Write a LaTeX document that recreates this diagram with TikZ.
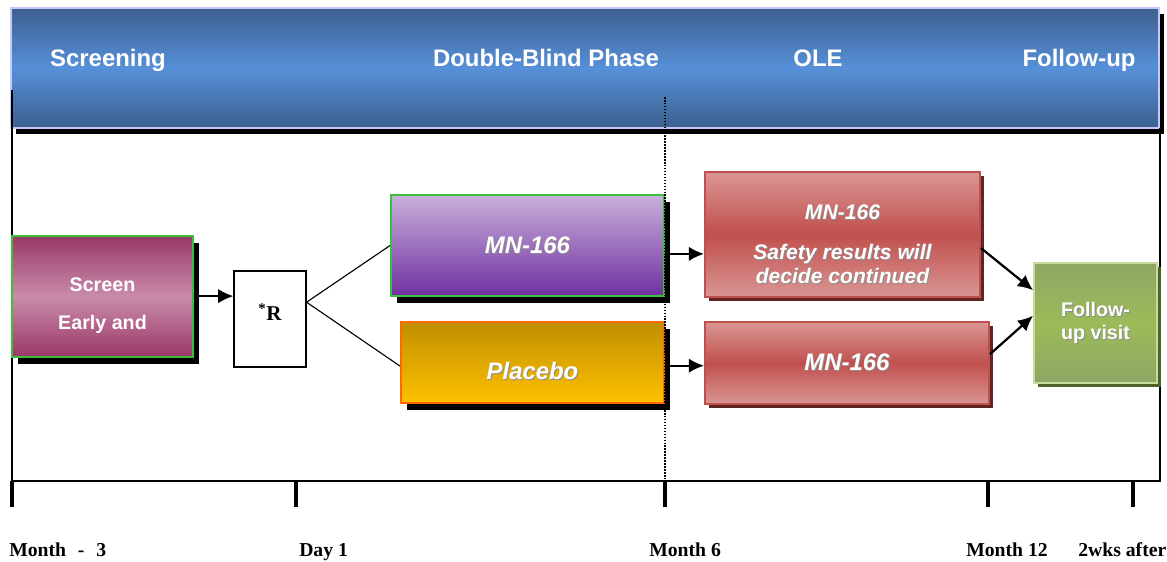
\documentclass[tikz,border=0pt]{standalone}
\usepackage{fontspec}
\setmainfont{Liberation Serif}
\setsansfont{Liberation Sans}
\usepackage{xcolor}
\usetikzlibrary{arrows.meta}
\usetikzlibrary{shadows}

\definecolor{hdrdark}{HTML}{3C5F8F}
\definecolor{hdrmid}{HTML}{5690D8}
\definecolor{hdrline}{HTML}{C8C8F8}
\definecolor{scrdark}{HTML}{9A3868}
\definecolor{scrmid}{HTML}{C98BAA}
\definecolor{boxgreen}{HTML}{3CC03C}
\definecolor{purptop}{HTML}{C8B0DC}
\definecolor{purpbot}{HTML}{7030A0}
\definecolor{goldtop}{HTML}{BF8F00}
\definecolor{goldbot}{HTML}{FFC000}
\definecolor{plborder}{HTML}{FF6A00}
\definecolor{redlight}{HTML}{DA9694}
\definecolor{redmid}{HTML}{C0504D}
\definecolor{redline}{HTML}{C0504D}
\definecolor{redshadow}{HTML}{632523}
\definecolor{fuptop}{HTML}{8FA664}
\definecolor{fupmid}{HTML}{9BBB59}
\definecolor{fupline}{HTML}{C4DD9A}
\definecolor{fupshadow}{HTML}{4F6228}

% white text with a little grey shadow
\newcommand{\shd}[1]{\makebox[0pt][l]{\kern0.7pt\raisebox{-0.7pt}{\textcolor{black!45}{#1}}}#1}

\begin{document}
\begin{tikzpicture}[x=0.025cm,y=-0.025cm,
  hdrtxt/.style={anchor=base,text=white,font=\sffamily\bfseries\fontsize{17}{20}\selectfont},
  box/.style={draw,line width=1.3pt,text=white,align=center,
    font=\sffamily\bfseries\fontsize{14}{19}\selectfont},
  blkshadow/.style={drop shadow={shadow xshift=0.14cm,shadow yshift=-0.17cm,fill=black,opacity=1}},
  arr/.style={line width=1.6pt,-{Latex[length=0.38cm,width=0.36cm]}},
  daylabel/.style={anchor=base west,inner sep=0pt,font=\bfseries\fontsize{14}{16}\selectfont}]
  \useasboundingbox (0,0) rectangle (1167,561);

  % header band
  \node[draw=hdrline,line width=1.4pt,minimum width=28.7cm,minimum height=3.0cm,
    top color=hdrdark,bottom color=hdrdark,middle color=hdrmid,
    drop shadow={shadow xshift=0.13cm,shadow yshift=-0.15cm,fill=black,opacity=1}]
    (hdr) at (585,68) {};
  \node[hdrtxt] (tscr) at (108,66) {Screening};
  \node[hdrtxt] (tdb) at (546,66) {Double-Blind Phase};
  \node[hdrtxt] (tole) at (818,66) {OLE};
  \node[hdrtxt] (tfup) at (1079,66) {Follow-up};

  % frame
  \draw[line width=0.9pt] (12,90) -- (12,481) -- (1160,481) -- (1160,128);

  % boxes
  \node[box,blkshadow,draw=boxgreen,minimum width=4.525cm,minimum height=3.025cm,
    top color=scrdark,bottom color=scrdark,middle color=scrmid]
    (scr) at (102.5,296.5) {\rule{0pt}{23pt}Screen\\[0.3cm]Early and};
  \node[draw,line width=0.8pt,fill=white,minimum width=1.8cm,minimum height=2.4cm,
    font=\bfseries\fontsize{15}{18}\selectfont]
    (rnd) at (270,319) {\textsuperscript{*}R\rule[-10pt]{0pt}{0pt}};
  \node[box,blkshadow,draw=boxgreen,minimum width=6.825cm,minimum height=2.525cm,
    top color=purptop,bottom color=purpbot,font=\sffamily\bfseries\itshape\fontsize{17}{20}\selectfont]
    (mn) at (527.5,245.5) {\shd{MN-166}};
  \node[box,blkshadow,draw=plborder,minimum width=6.575cm,minimum height=2.025cm,
    top color=goldtop,bottom color=goldbot,font=\sffamily\bfseries\itshape\fontsize{17}{20}\selectfont]
    (pla) at (532.5,362.5) {\rule{0pt}{25pt}\shd{Placebo}};
  \node[box,draw=redline,minimum width=6.875cm,minimum height=3.125cm,
    top color=redlight,bottom color=redlight,middle color=redmid,
    drop shadow={shadow xshift=0.1cm,shadow yshift=-0.1cm,fill=redshadow,opacity=1},
    font=\sffamily\bfseries\itshape\fontsize{15}{17}\selectfont]
    (ole1) at (842.5,234.5) {\rule{0pt}{25pt}\shd{MN-166}\\[12pt]\shd{Safety results will}\\\shd{decide continued}};
  \node[box,draw=redline,minimum width=7.1cm,minimum height=2.05cm,
    top color=redlight,bottom color=redlight,middle color=redmid,
    drop shadow={shadow xshift=0.1cm,shadow yshift=-0.1cm,fill=redshadow,opacity=1},
    font=\sffamily\bfseries\itshape\fontsize{17}{20}\selectfont]
    (ole2) at (847,363) {\shd{MN-166}};
  \node[box,draw=fupline,minimum width=3.075cm,minimum height=3.0cm,
    top color=fuptop,bottom color=fuptop,middle color=fupmid,
    drop shadow={shadow xshift=0.1cm,shadow yshift=-0.1cm,fill=fupshadow,opacity=1},
    font=\sffamily\bfseries\fontsize{14}{16.3}\selectfont]
    (fup) at (1095.5,323) {\shd{Follow-}\\\shd{up visit}};

  % connectors
  \coordinate (rout) at ([yshift=0.42cm]rnd.east);
  \draw[arr] ([yshift=0.01cm]scr.east) -- ([yshift=0.01cm]scr.east -| rnd.west);
  \draw[line width=0.8pt] (mn.west) -- (rout) -- ([yshift=-0.09cm]pla.west);
  \draw[arr] ([yshift=-0.21cm]mn.east) -- ([yshift=-0.21cm]mn.east -| ole1.west);
  \draw[arr] ([yshift=-0.08cm]pla.east) -- ([yshift=-0.08cm]pla.east -| ole2.west);
  \draw[arr] ([yshift=-0.34cm]ole1.east) -- ([yshift=0.82cm]fup.west);
  \draw[arr] ([yshift=0.22cm]ole2.east) -- ([yshift=0.18cm]fup.west);

  % month 6 divider
  \draw[line width=1.1pt,densely dotted] (665,97) -- (665,481);

  % time axis
  \foreach \x in {12,296,665,988,1133}{
    \draw[line width=2.2pt] (\x,481) -- (\x,507);
  }
  \node[daylabel] (m0) at (9,556) {Month\hspace{0.6em}-\hspace{0.6em}3};
  \node[daylabel] (d1) at (299,556) {Day 1};
  \node[daylabel] (m6) at (649,556) {Month 6};
  \node[daylabel] (m12) at (966,556) {Month 12};
  \node[daylabel] (w2) at (1078,556) {2wks after};
\end{tikzpicture}
\end{document}
